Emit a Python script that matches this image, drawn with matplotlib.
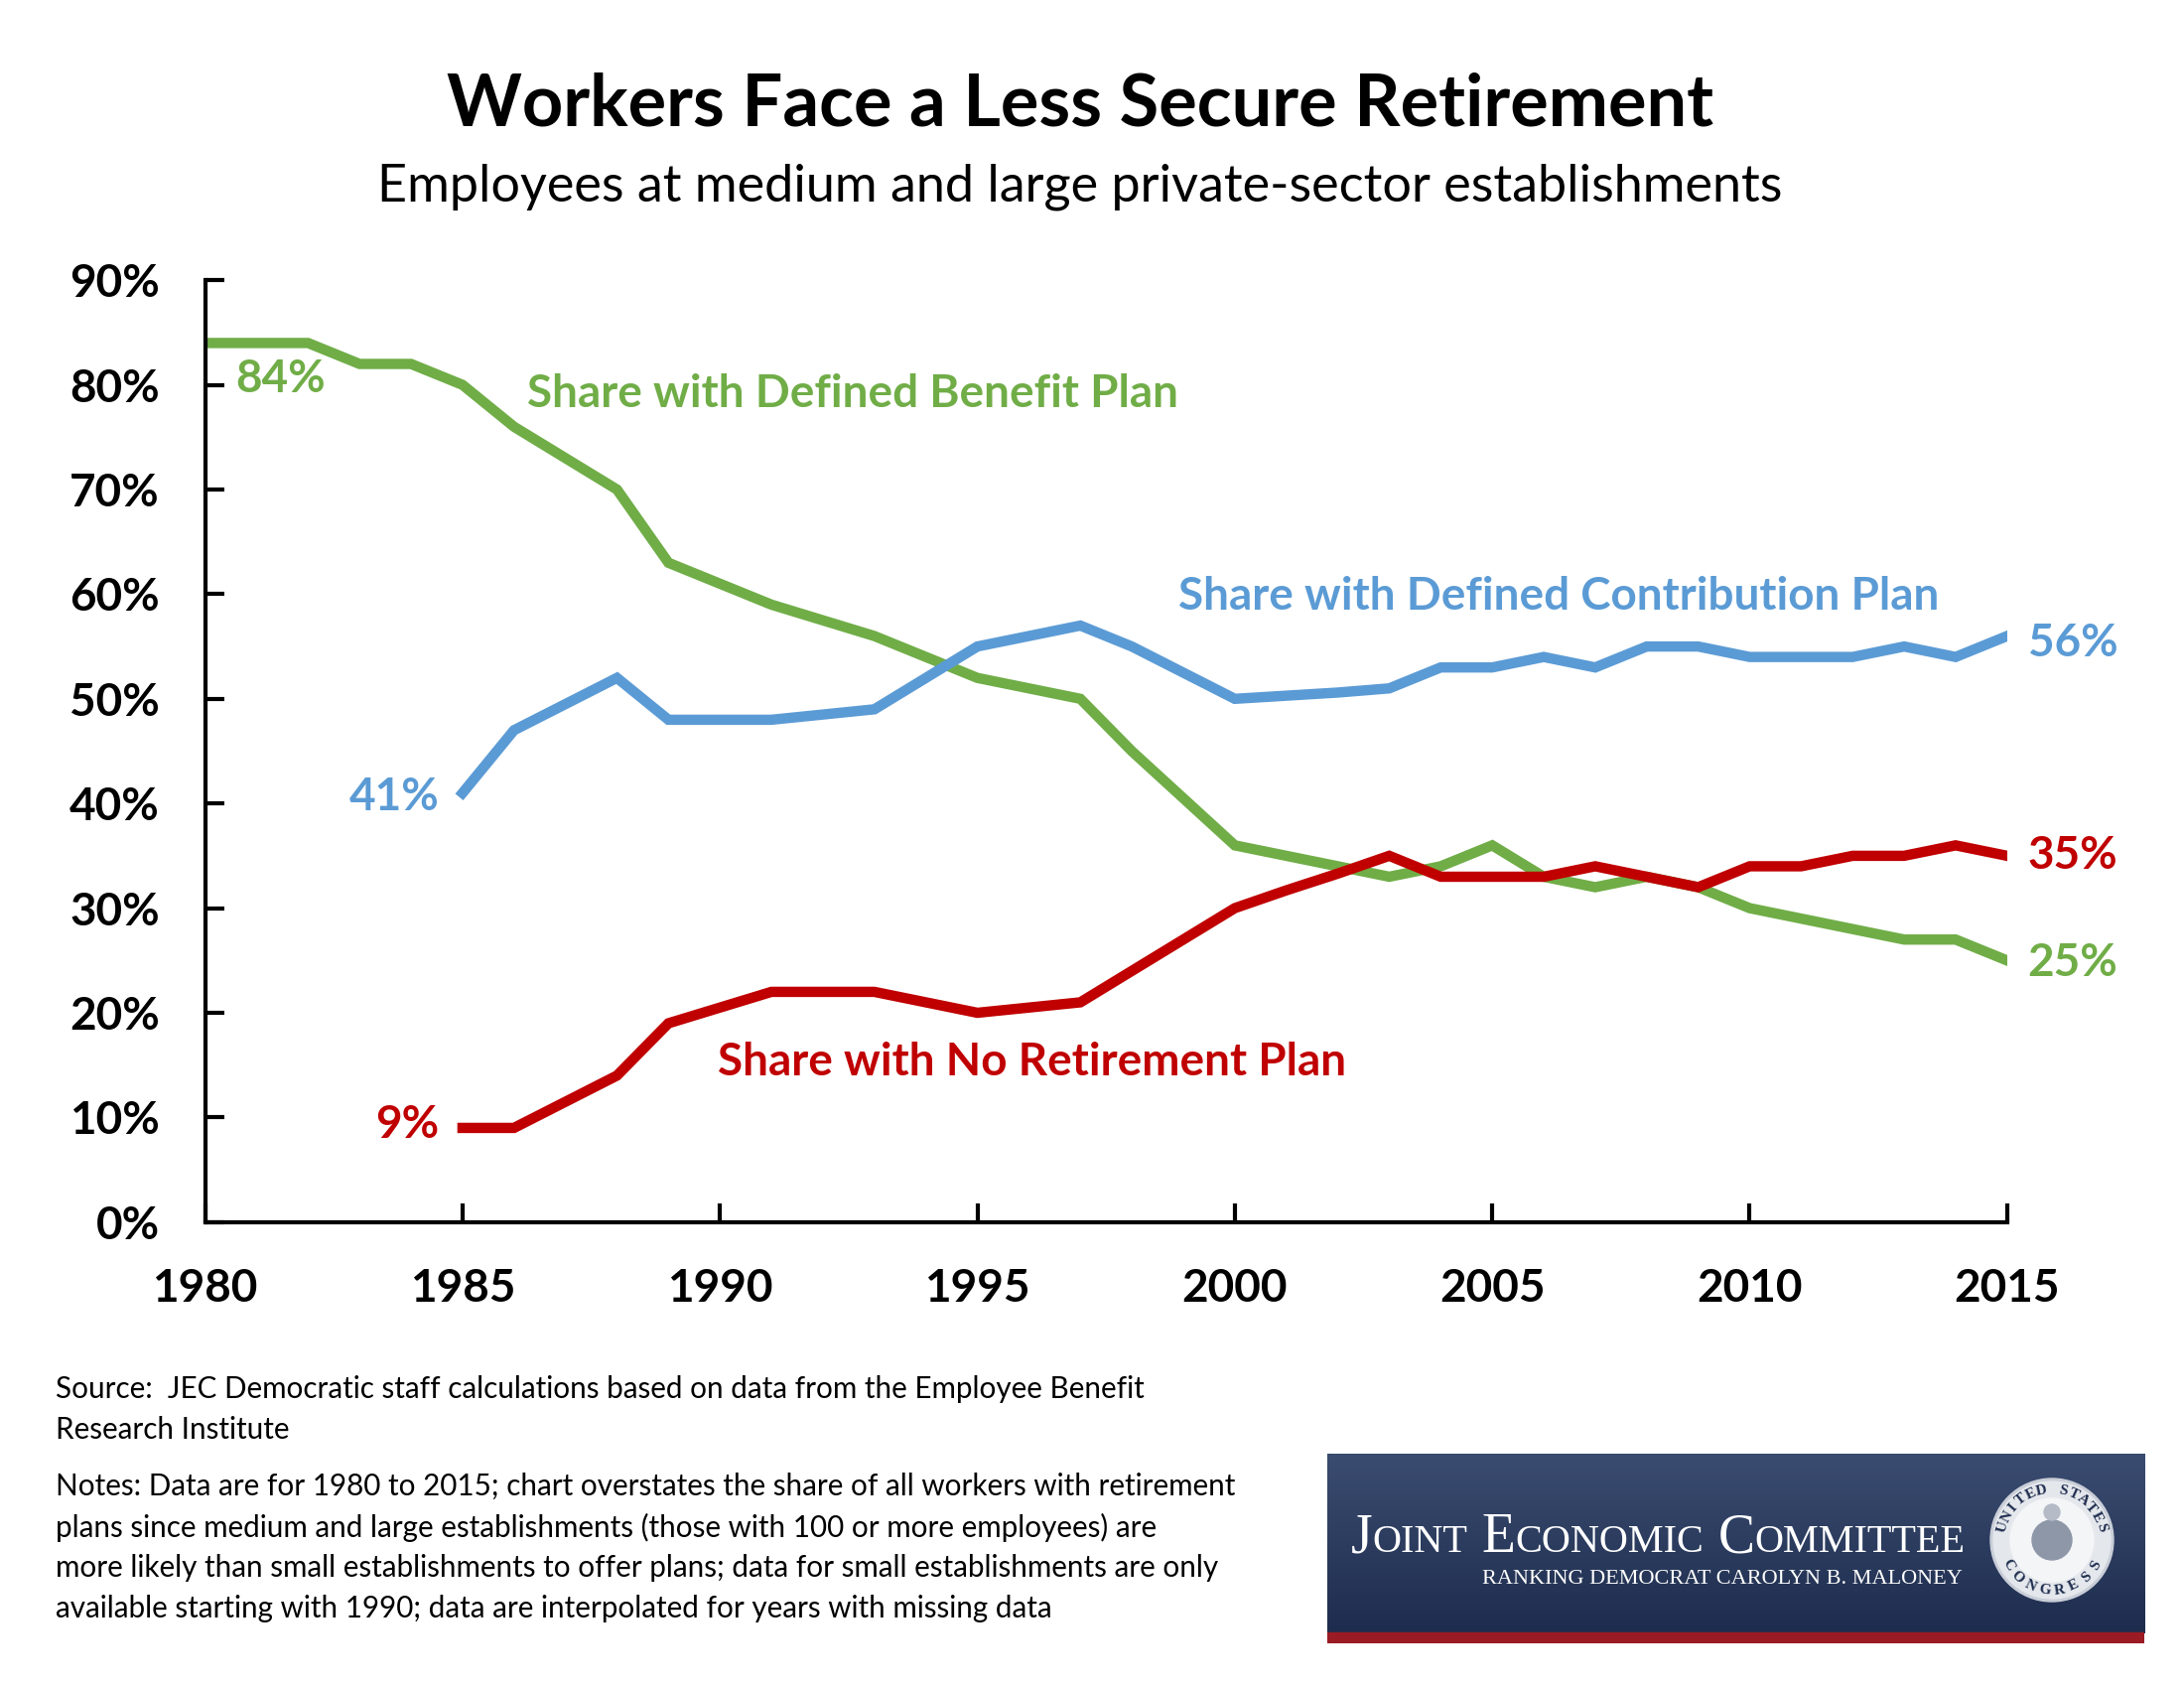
import matplotlib
matplotlib.use("Agg")
import numpy as np
import matplotlib.pyplot as plt
from matplotlib.patches import Rectangle, Circle

plt.rcParams['font.family'] = ['Lato', 'DejaVu Sans']

# data (percent of employees)
years_db = list(range(1980, 2016))
defined_benefit = [84, 84, 84, 82, 82, 80, 76, 73, 70, 63,
                   61, 59, 57.5, 56, 54, 52, 51, 50, 45, 40.5,
                   36, 35, 34, 33, 34, 36, 33, 32, 33, 32,
                   30, 29, 28, 27, 27, 25]

years_dc = list(range(1985, 2016))
defined_contribution = [41, 47, 49.5, 52, 48,
                        48, 48, 48.5, 49, 52, 55, 56, 57, 55, 52.5,
                        50, 50.3, 50.6, 51, 53, 53, 54, 53, 55, 55,
                        54, 54, 54, 55, 54, 56]

no_plan = [9, 9, 11.5, 14, 19,
           20.5, 22, 22, 22, 21, 20, 20.5, 21, 24, 27,
           30, 31.7, 33.3, 35, 33, 33, 33, 34, 33, 32,
           34, 34, 35, 35, 36, 35]

x_ticks = [1980, 1985, 1990, 1995, 2000, 2005, 2010, 2015]
y_ticks = [0, 10, 20, 30, 40, 50, 60, 70, 80, 90]

GREEN = '#70AD47'
BLUE = '#5B9BD5'
RED = '#C00000'

fig = plt.figure(figsize=(22, 17), dpi=100)
ax = fig.add_axes([0.0939, 0.276, 0.9190 - 0.0939, 0.834 - 0.276])

ax.plot(years_db, defined_benefit, color=GREEN, lw=7.5, solid_joinstyle='miter')
ax.plot(years_dc, defined_contribution, color=BLUE, lw=7.5, solid_joinstyle='miter')
ax.plot(years_dc, no_plan, color=RED, lw=7.5, solid_joinstyle='miter')

ax.set_xlim(1980, 2015)
ax.set_ylim(0, 90)
ax.set_xticks(x_ticks)
ax.set_yticks(y_ticks)
ax.set_yticklabels([f'{v}%' for v in y_ticks])
for s in ['top', 'right']:
    ax.spines[s].set_visible(False)
for s in ['left', 'bottom']:
    ax.spines[s].set_linewidth(3)
ax.tick_params(axis='both', direction='in', length=14, width=3, labelsize=33)
ax.tick_params(axis='y', pad=33)
ax.tick_params(axis='x', pad=33)
for lbl in ax.get_xticklabels() + ax.get_yticklabels():
    lbl.set_fontweight('bold')

# series names
lab = dict(fontsize=33, fontweight='bold', va='center')
ax.text(1986.25, 79.1, 'Share with Defined Benefit Plan', color=GREEN, **lab)
ax.text(1998.9, 59.8, 'Share with Defined Contribution Plan', color=BLUE, **lab)
ax.text(1989.95, 15.3, 'Share with No Retirement Plan', color=RED, **lab)

# start / end values
ax.text(1980.6, defined_benefit[0] - 3.5, f'{defined_benefit[0]}%', color=GREEN, ha='left', **lab)
ax.text(years_dc[0] - 0.45, defined_contribution[0] - 0.4, f'{defined_contribution[0]}%', color=BLUE, ha='right', **lab)
ax.text(years_dc[0] - 0.45, no_plan[0] + 0.25, f'{no_plan[0]}%', color=RED, ha='right', **lab)
ax.text(2015.4, defined_contribution[-1] - 0.7, f'{defined_contribution[-1]}%', color=BLUE, ha='left', **lab)
ax.text(2015.4, no_plan[-1], f'{no_plan[-1]}%', color=RED, ha='left', **lab)
ax.text(2015.4, defined_benefit[-1] - 0.3, f'{defined_benefit[-1]}%', color=GREEN, ha='left', **lab)

# titles
fig.text(0.4945, 0.9376, 'Workers Face a Less Secure Retirement', ha='center', va='center',
         fontsize=52, fontweight='bold')
fig.text(0.4945, 0.889, 'Employees at medium and large private-sector establishments',
         ha='center', va='center', fontsize=37.5)

# footnotes
foot = dict(fontsize=21.3, ha='left', va='center')
fig.text(0.0255, 1 - 1399 / 1700, 'Source:  JEC Democratic staff calculations based on data from the Employee Benefit', **foot)
fig.text(0.0255, 1 - 1440 / 1700, 'Research Institute', **foot)
notes = ['Notes: Data are for 1980 to 2015; chart overstates the share of all workers with retirement',
         'plans since medium and large establishments (those with 100 or more employees) are',
         'more likely than small establishments to offer plans; data for small establishments are only',
         'available starting with 1990; data are interpolated for years with missing data']
for i, line in enumerate(notes):
    fig.text(0.0255, 1 - (1497 + 41 * i) / 1700, line, **foot)

# committee banner
lx0, ly0, lw_, lh = 1337 / 2200, 1 - 1655 / 1700, 823 / 2200, 191 / 1700
logo = fig.add_axes([lx0, ly0, lw_, lh])
logo.axis('off')
grad = np.linspace(0, 1, 64).reshape(-1, 1)
logo.imshow(grad, extent=(0, 823, 10, 191), origin='lower', aspect='auto',
            cmap=matplotlib.colors.LinearSegmentedColormap.from_list('nv', ['#1E2D4E', '#3A4C70']))
logo.add_patch(Rectangle((0, 0), 823, 11, color='#9B1B24'))
logo.set_xlim(0, 823)
logo.set_ylim(0, 191)

serif = ['Liberation Serif', 'DejaVu Serif']
r = fig.canvas.get_renderer()
px_per_unit = lw_ * 2200 / 823
x = 24
for big, small in [('J', 'OINT'), ('E', 'CONOMIC'), ('C', 'OMMITTEE')]:
    t1 = logo.text(x, 92, big, family=serif, fontsize=40, color='white', va='baseline')
    x += t1.get_window_extent(r).width / px_per_unit
    t2 = logo.text(x, 92, small, family=serif, fontsize=29, color='white', va='baseline')
    x += t2.get_window_extent(r).width / px_per_unit + 14
logo.text(640, 60, 'RANKING DEMOCRAT CAROLYN B. MALONEY', family=serif, fontsize=16,
          color='white', ha='right', va='baseline')

# seal
cx, cy, rad = 730, 104, 62
logo.add_patch(Circle((cx, cy), rad, color='#C9CED8'))
logo.add_patch(Circle((cx, cy), rad - 3, color='#E4E7EC'))
logo.add_patch(Circle((cx, cy), rad - 20, color='#F4F5F7'))
logo.add_patch(Circle((cx, cy), 20, color='#8E97A8'))
logo.add_patch(Circle((cx, cy + 28), 8, color='#B4BAC6'))
for word, a0, a1, flip in [('UNITED STATES', 165, 15, False), ('CONGRESS', 210, 330, True)]:
    angs = np.linspace(a0, a1, len(word))
    for ch, a in zip(word, angs):
        th = np.deg2rad(a)
        rot = a - 90 if not flip else a + 90
        logo.text(cx + (rad - 11) * np.cos(th), cy + (rad - 11) * np.sin(th), ch,
                  family=serif, fontsize=11, fontweight='bold', color='#1E2D4E',
                  ha='center', va='center', rotation=rot)

fig.savefig('out.png', dpi=100, facecolor='white')
